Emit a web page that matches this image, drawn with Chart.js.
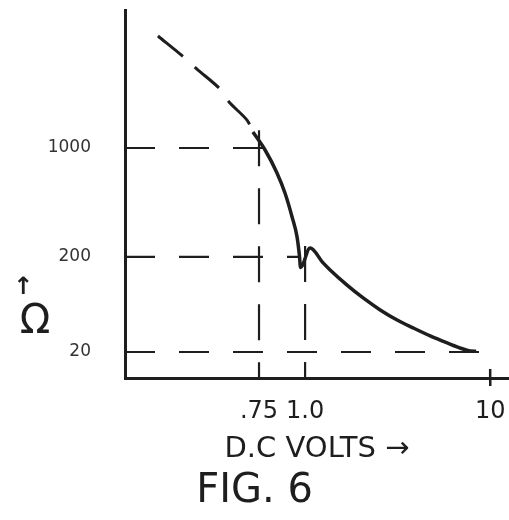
<!DOCTYPE html>
<html>
<head>
<meta charset="utf-8">
<script src="https://cdn.jsdelivr.net/npm/chart.js@4/dist/chart.umd.min.js"></script>
<style>
    html, body { margin: 0; padding: 0; background: #fff; }
    #wrap { width: 509px; height: 520px; }
</style>
</head>
<body>
<div id="wrap"><canvas id="fig6"></canvas></div>
<script>
// axis ticks as drawn on the sketch
const X_TICKS = [0.75, 1.0, 10];
const X_LABELS = ['.75', '1.0', '10'];
const Y_TICKS = [20, 200, 1000];
const Y_LABELS = ['20', '200', '1000'];

// dashed (extrapolated) part of the curve
const EXTRAP_V = [0.399, 0.472, 0.509, 0.588, 0.622, 0.696, 0.722];
const EXTRAP_OHM = [5230, 3780, 3210, 2390, 1972, 1510, 1266];

// solid (measured) part of the curve
const MEASURED_V = [0.722, 0.779, 0.839, 0.882, 0.922, 0.951, 0.965, 0.972, 1.064, 1.251, 1.365, 1.686, 2.059, 2.545, 3.143, 3.835, 4.739, 5.856, 7.145, 7.80, 8.40];
const MEASURED_OHM = [1266, 971, 692, 514, 361, 269, 205, 155, 228, 173, 146, 101, 74.0, 55.4, 43.4, 35.8, 29.5, 24.9, 21.5, 20.5, 20.4];

// dashed reading lines
const H_GUIDE_OHM = [1000, 200, 20];
const H_GUIDE_TO_V = [0.77, 0.97, 10];
const V_GUIDE_V = [0.75, 1.0];
const V_GUIDE_FROM_OHM = [1300, 235];

const INK = '#1e1e1e';
const FONT = 'DejaVu Sans';

// hand drawn axes are not evenly spaced: interpolate log(value) between the marked ticks
class SketchScale extends Chart.LinearScale {
    static id = 'sketch';
    static defaults = {};
    buildTicks() {
        return this.options.marks.map(v => ({ value: v }));
    }
    toDecimal(value) {
        const m = this.options.marks, f = this.options.spots;
        const lv = Math.log10(value);
        let i = 0;
        while (i < m.length - 2 && lv > Math.log10(m[i + 1])) i++;
        const a = Math.log10(m[i]), b = Math.log10(m[i + 1]);
        return f[i] + (lv - a) / (b - a) * (f[i + 1] - f[i]);
    }
    getPixelForValue(value) {
        return this.getPixelForDecimal(this.toDecimal(value));
    }
}
Chart.register(SketchScale);

const toPoints = (xs, ys) => xs.map((v, i) => ({ x: v, y: ys[i] }));

const noEdgePadding = (scale) => {
    scale.paddingTop = 0;
    scale.paddingBottom = 0;
    scale.paddingLeft = 0;
    scale.paddingRight = 0;
};

// guide lines + omega label
const sketchExtras = {
    id: 'sketchExtras',
    beforeDatasetsDraw(chart) {
        const { ctx, chartArea, scales: { x, y } } = chart;
        ctx.save();
        ctx.strokeStyle = INK;
        ctx.lineWidth = 2.2;
        ctx.setLineDash([30, 24]);
        H_GUIDE_OHM.forEach((v, i) => {
            const py = y.getPixelForValue(v);
            ctx.beginPath();
            ctx.moveTo(chartArea.left, py);
            ctx.lineTo(x.getPixelForValue(H_GUIDE_TO_V[i]), py);
            ctx.stroke();
        });
        ctx.setLineDash([36, 22]);
        V_GUIDE_V.forEach((v, i) => {
            const px = x.getPixelForValue(v);
            ctx.beginPath();
            ctx.moveTo(px, y.getPixelForValue(V_GUIDE_FROM_OHM[i]));
            ctx.lineTo(px, chartArea.bottom);
            ctx.stroke();
        });
        // the 10 V tick crosses the axis
        ctx.setLineDash([]);
        ctx.lineWidth = 2.5;
        const p10 = x.getPixelForValue(X_TICKS[2]);
        ctx.beginPath();
        ctx.moveTo(p10, chartArea.bottom - 9);
        ctx.lineTo(p10, chartArea.bottom);
        ctx.stroke();
        ctx.restore();
    },
    afterDraw(chart) {
        const { ctx, chartArea } = chart;
        ctx.save();
        ctx.fillStyle = INK;
        ctx.textAlign = 'center';
        ctx.textBaseline = 'middle';
        ctx.font = 'bold 24px ' + FONT;
        ctx.fillText('↑', chartArea.left - 102, chartArea.bottom - 90);
        ctx.font = '40px ' + FONT;
        ctx.fillText('Ω', chartArea.left - 90, chartArea.bottom - 55);
        ctx.restore();
    }
};

const ctx = document.getElementById('fig6').getContext('2d');

new Chart(ctx, {
    type: 'line',
    data: {
        datasets: [{
            data: toPoints(EXTRAP_V, EXTRAP_OHM),
            borderColor: INK,
            borderWidth: 3,
            borderDash: [32, 16],
            pointRadius: 0,
            tension: 0.3
        }, {
            data: toPoints(MEASURED_V, MEASURED_OHM),
            borderColor: INK,
            borderWidth: 3.5,
            pointRadius: 0,
            cubicInterpolationMode: 'monotone'
        }]
    },
    options: {
        responsive: true,
        maintainAspectRatio: false,
        animation: false,
        events: [],
        layout: { padding: { top: 10, left: 0, right: 0, bottom: 0 } },
        scales: {
            x: {
                type: 'sketch',
                marks: X_TICKS,
                spots: [0.349, 0.469, 0.951],
                afterFit: (scale) => { scale.height = 90; noEdgePadding(scale); },
                grid: {
                    drawOnChartArea: false,
                    drawTicks: true,
                    tickLength: 8,
                    lineWidth: 2.5,
                    color: (c) => c.index === 2 ? INK : 'rgba(0,0,0,0)'
                },
                border: { display: true, color: INK, width: 3 },
                ticks: {
                    padding: 11,
                    color: INK,
                    font: { family: FONT, size: 24 },
                    maxRotation: 0,
                    autoSkip: false,
                    callback: (v, i) => X_LABELS[i]
                },
                title: {
                    display: true,
                    text: 'D.C VOLTS →',
                    color: INK,
                    font: { family: FONT, size: 29 },
                    padding: { top: 0, bottom: 1 }
                }
            },
            y: {
                type: 'sketch',
                marks: Y_TICKS,
                spots: [0.0707, 0.329, 0.625],
                afterFit: (scale) => { scale.width = 125; noEdgePadding(scale); },
                grid: { display: false },
                border: { display: true, color: INK, width: 3 },
                ticks: {
                    padding: 26,
                    color: '#333',
                    font: { family: FONT, size: 17 },
                    autoSkip: false,
                    callback: (v, i) => Y_LABELS[i]
                }
            }
        },
        plugins: {
            legend: { display: false },
            tooltip: { enabled: false },
            title: {
                display: true,
                position: 'bottom',
                text: 'FIG. 6',
                color: INK,
                font: { family: FONT, size: 40, weight: 'normal' },
                padding: { top: 0, bottom: 4 }
            }
        }
    },
    plugins: [sketchExtras]
});
</script>
</body>
</html>
